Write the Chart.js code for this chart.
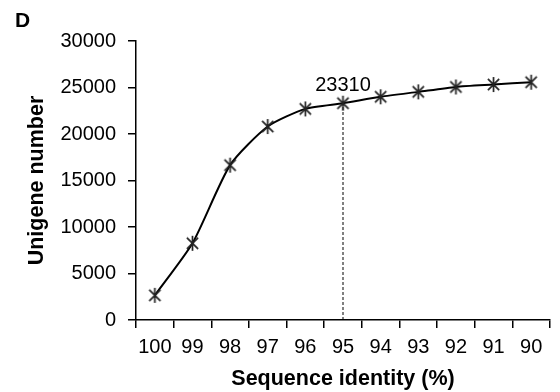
<!DOCTYPE html>
<html>
<head>
<meta charset="utf-8">
<script src="https://cdn.jsdelivr.net/npm/chart.js@4"></script>
<style>
  html, body { margin: 0; padding: 0; background: #fff; }
  #wrap { width: 560px; height: 392px; }
</style>
</head>
<body>
<div id="wrap"><canvas id="chart" width="560" height="392"></canvas></div>
<script>
// data
const identity = ['100', '99', '98', '97', '96', '95', '94', '93', '92', '91', '90'];
const unigenes = [2650, 8250, 16650, 20800, 22700, 23310, 24000, 24530, 25060, 25320, 25570];
const markedIdentity = '95';
const markedValue = 23310;
const yTicks = [0, 5000, 10000, 15000, 20000, 25000, 30000];

const FONT = 'Arial, "Liberation Sans", sans-serif';

// Excel-like star marker: vertical bar plus an X
function makeStar(size) {
  const c = document.createElement('canvas');
  c.width = size; c.height = size;
  const g = c.getContext('2d');
  const m = size / 2, r = size / 2 - 1, d = r * 0.75;
  g.strokeStyle = '#222';
  g.lineWidth = 1.7;
  g.beginPath();
  g.moveTo(m, m - r); g.lineTo(m, m + r);
  g.moveTo(m - d, m - d); g.lineTo(m + d, m + d);
  g.moveTo(m + d, m - d); g.lineTo(m - d, m + d);
  g.stroke();
  return c;
}
const star = makeStar(17);

// panel letter + value label at the marked point
const annotate = {
  id: 'annotate',
  afterDatasetsDraw(chart) {
    const ctx = chart.ctx;
    const x = chart.scales.x.getPixelForValue(identity.indexOf(markedIdentity));
    const y = chart.scales.y.getPixelForValue(markedValue);
    ctx.save();
    ctx.fillStyle = '#000';
    ctx.textAlign = 'center';
    ctx.textBaseline = 'middle';
    ctx.font = '20px ' + FONT;
    ctx.fillText(String(markedValue), x, y - 18);
    ctx.textAlign = 'left';
    ctx.font = 'bold 21px ' + FONT;
    ctx.fillText('D', 15, 21);
    ctx.restore();
  }
};

new Chart(document.getElementById('chart'), {
  type: 'line',
  data: {
    labels: identity,
    datasets: [
      {
        data: unigenes,
        borderColor: '#000',
        borderWidth: 2,
        tension: 0.22,
        pointStyle: star,
        pointRadius: 8,
        pointHoverRadius: 8
      },
      {
        data: [{ x: markedIdentity, y: 0 }, { x: markedIdentity, y: markedValue }],
        borderColor: '#000',
        borderWidth: 1,
        borderDash: [3, 2],
        pointRadius: 0,
        tension: 0
      }
    ]
  },
  options: {
    responsive: false,
    animation: false,
    layout: { padding: { top: 41, right: 10, left: 0, bottom: 0 } },
    plugins: { legend: { display: false }, tooltip: { enabled: false } },
    scales: {
      x: {
        offset: true,
        afterFit: s => { s.height = 72; },
        grid: { offset: true, drawOnChartArea: false, tickLength: 8, color: '#000', lineWidth: 1.5 },
        border: { color: '#000', width: 1.5 },
        ticks: { color: '#000', font: { family: FONT, size: 20 }, padding: 7, maxRotation: 0, autoSkip: false },
        title: {
          display: true, text: 'Sequence identity (%)', color: '#000',
          font: { family: FONT, size: 21.5, weight: 'bold' }, padding: { top: 0, bottom: 0 }
        }
      },
      y: {
        min: 0,
        max: 30000,
        afterFit: s => { s.width = 136; },
        afterBuildTicks: s => { s.ticks = yTicks.map(v => ({ value: v })); },
        grid: { drawOnChartArea: false, tickLength: 8, color: '#000', lineWidth: 1.5 },
        border: { color: '#000', width: 1.5 },
        ticks: { color: '#000', font: { family: FONT, size: 20 }, padding: 12, callback: v => String(v) },
        title: {
          display: true, text: 'Unigene number', color: '#000',
          font: { family: FONT, size: 21.5, weight: 'bold' }, padding: { top: 24, bottom: 0 }
        }
      }
    }
  },
  plugins: [annotate]
});
</script>
</body>
</html>
